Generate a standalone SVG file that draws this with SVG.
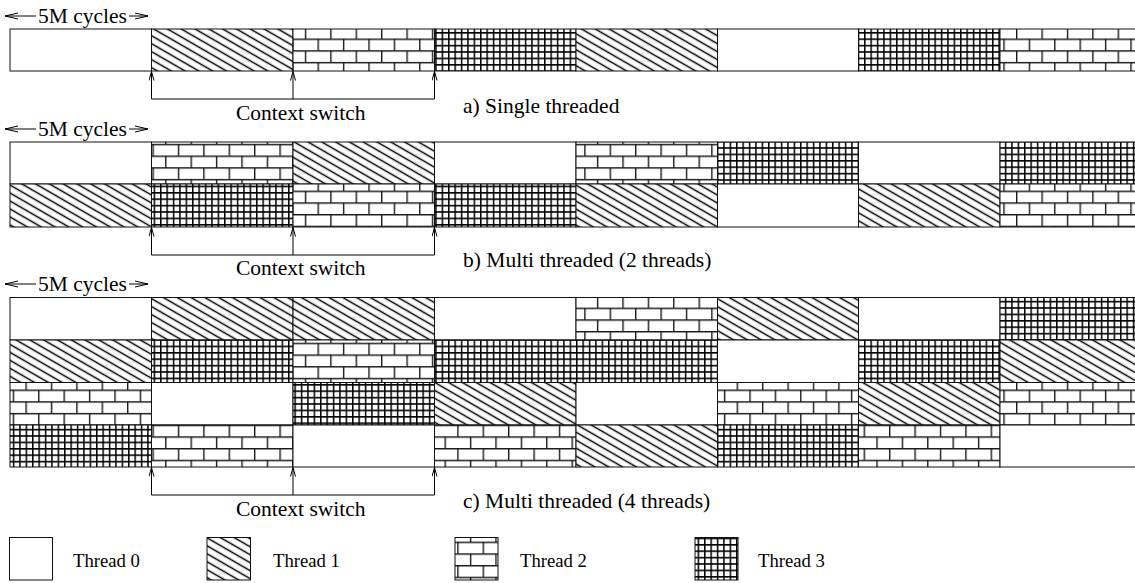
<svg xmlns="http://www.w3.org/2000/svg" width="1135" height="583" viewBox="0 0 1135 583">
<style>
text{font-family:"Liberation Serif","Times New Roman",serif;fill:#000}
.lbl{font-size:21.5px}
.leg{font-size:18.7px}
.c{stroke:#111;stroke-width:1}
.t0{fill:#fff}
.t1{fill:url(#p1)}
.t2{fill:url(#p2)}
.t3{fill:url(#p3)}
.ln{stroke:#000;stroke-width:1;fill:none}
</style>
<defs>
<pattern id="p1" patternUnits="userSpaceOnUse" width="20" height="6.9" patternTransform="rotate(30)">
<rect x="0" y="0" width="20" height="6.9" fill="#fff"/>
<line x1="-1" y1="3.45" x2="21" y2="3.45" stroke="#000" stroke-width="1.5"/>
</pattern>
<pattern id="p2" patternUnits="userSpaceOnUse" x="0" y="3.4" width="25.4" height="23.4">
<rect x="0" y="0" width="25.4" height="23.4" fill="#fff"/>
<path d="M0 0.7H25.4M0 12.4H25.4M0.7 0V11.7M13.4 11.7V23.4" stroke="#1a1a1a" stroke-width="1.4" fill="none"/>
</pattern>
<pattern id="p3" patternUnits="userSpaceOnUse" width="6.4" height="6.4">
<rect x="0" y="0" width="6.4" height="6.4" fill="#fff"/>
<path d="M0 0.75H6.4M0.75 0V6.4" stroke="#000" stroke-width="1.5" fill="none"/>
</pattern>
<marker id="ah" markerUnits="userSpaceOnUse" markerWidth="14" markerHeight="8" refX="13" refY="4" orient="auto">
<path d="M0 1 L13 4 L0 7" fill="none" stroke="#000" stroke-width="1"/>
</marker>
<marker id="ah2" markerUnits="userSpaceOnUse" markerWidth="10" markerHeight="6" refX="9" refY="3" orient="auto">
<path d="M0 0.5 L9 3 L0 5.5" fill="none" stroke="#000" stroke-width="1"/>
</marker>
</defs>

<g id="section-a">
<text class="lbl" x="38" y="23">5M cycles</text>
<g id="a-row">
<rect class="c t0" x="10" y="29" width="141.5" height="42"/>
<rect class="c t1" x="151.5" y="29" width="141.5" height="42"/>
<rect class="c t2" x="293" y="29" width="141.5" height="42"/>
<rect class="c t3" x="434.5" y="29" width="141.5" height="42"/>
<rect class="c t1" x="576" y="29" width="141.5" height="42"/>
<rect class="c t0" x="717.5" y="29" width="141" height="42"/>
<rect class="c t3" x="858.5" y="29" width="141.5" height="42"/>
<rect class="c t2" x="1000" y="29" width="141.5" height="42"/>
</g>
<text class="lbl" x="236" y="120">Context switch</text>
<text class="lbl" x="463" y="113">a) Single threaded</text>
</g>

<g id="section-b">
<text class="lbl" x="38" y="136">5M cycles</text>
<g id="b-row1">
<rect class="c t0" x="10" y="142" width="141.5" height="42"/>
<rect class="c t2" x="151.5" y="142" width="141.5" height="42"/>
<rect class="c t1" x="293" y="142" width="141.5" height="42"/>
<rect class="c t0" x="434.5" y="142" width="141.5" height="42"/>
<rect class="c t2" x="576" y="142" width="141.5" height="42"/>
<rect class="c t3" x="717.5" y="142" width="141" height="42"/>
<rect class="c t0" x="858.5" y="142" width="141.5" height="42"/>
<rect class="c t3" x="1000" y="142" width="141.5" height="42"/>
</g>
<g id="b-row2">
<rect class="c t1" x="10" y="184" width="141.5" height="43"/>
<rect class="c t3" x="151.5" y="184" width="141.5" height="43"/>
<rect class="c t2" x="293" y="184" width="141.5" height="43"/>
<rect class="c t3" x="434.5" y="184" width="141.5" height="43"/>
<rect class="c t1" x="576" y="184" width="141.5" height="43"/>
<rect class="c t0" x="717.5" y="184" width="141" height="43"/>
<rect class="c t1" x="858.5" y="184" width="141.5" height="43"/>
<rect class="c t2" x="1000" y="184" width="141.5" height="43"/>
</g>
<text class="lbl" x="236" y="275">Context switch</text>
<text class="lbl" x="463" y="267">b) Multi threaded (2 threads)</text>
</g>

<g id="section-c">
<text class="lbl" x="38" y="291">5M cycles</text>
<g id="c-row1">
<rect class="c t0" x="10" y="297.5" width="141.5" height="42.5"/>
<rect class="c t1" x="151.5" y="297.5" width="141.5" height="42.5"/>
<rect class="c t1" x="293" y="297.5" width="141.5" height="42.5"/>
<rect class="c t0" x="434.5" y="297.5" width="141.5" height="42.5"/>
<rect class="c t2" x="576" y="297.5" width="141.5" height="42.5"/>
<rect class="c t1" x="717.5" y="297.5" width="141" height="42.5"/>
<rect class="c t0" x="858.5" y="297.5" width="141.5" height="42.5"/>
<rect class="c t3" x="1000" y="297.5" width="141.5" height="42.5"/>
</g>
<g id="c-row2">
<rect class="c t1" x="10" y="340" width="141.5" height="42.5"/>
<rect class="c t3" x="151.5" y="340" width="141.5" height="42.5"/>
<rect class="c t2" x="293" y="340" width="141.5" height="42.5"/>
<rect class="c t3" x="434.5" y="340" width="283" height="42.5"/>
<rect class="c t0" x="717.5" y="340" width="141" height="42.5"/>
<rect class="c t3" x="858.5" y="340" width="141.5" height="42.5"/>
<rect class="c t1" x="1000" y="340" width="141.5" height="42.5"/>
</g>
<g id="c-row3">
<rect class="c t2" x="10" y="382.5" width="141.5" height="42.5"/>
<rect class="c t0" x="151.5" y="382.5" width="141.5" height="42.5"/>
<rect class="c t3" x="293" y="382.5" width="141.5" height="42.5"/>
<rect class="c t1" x="434.5" y="382.5" width="141.5" height="42.5"/>
<rect class="c t0" x="576" y="382.5" width="141.5" height="42.5"/>
<rect class="c t2" x="717.5" y="382.5" width="141" height="42.5"/>
<rect class="c t1" x="858.5" y="382.5" width="141.5" height="42.5"/>
<rect class="c t2" x="1000" y="382.5" width="141.5" height="42.5"/>
</g>
<g id="c-row4">
<rect class="c t3" x="10" y="425" width="141.5" height="42"/>
<rect class="c t2" x="151.5" y="425" width="141.5" height="42"/>
<rect class="c t0" x="293" y="425" width="141.5" height="42"/>
<rect class="c t2" x="434.5" y="425" width="141.5" height="42"/>
<rect class="c t1" x="576" y="425" width="141.5" height="42"/>
<rect class="c t3" x="717.5" y="425" width="141" height="42"/>
<rect class="c t2" x="858.5" y="425" width="141.5" height="42"/>
<rect class="c t0" x="1000" y="425" width="141.5" height="42"/>
</g>
<text class="lbl" x="236" y="516">Context switch</text>
<text class="lbl" x="463" y="508">c) Multi threaded (4 threads)</text>
</g>

<g id="connectors">
<line class="ln" x1="36" y1="16" x2="5" y2="16" marker-end="url(#ah)"/>
<line class="ln" x1="129" y1="16" x2="148" y2="16" marker-end="url(#ah)"/>
<line class="ln" x1="36" y1="129" x2="5" y2="129" marker-end="url(#ah)"/>
<line class="ln" x1="129" y1="129" x2="148" y2="129" marker-end="url(#ah)"/>
<line class="ln" x1="36" y1="284" x2="5" y2="284" marker-end="url(#ah)"/>
<line class="ln" x1="129" y1="284" x2="148" y2="284" marker-end="url(#ah)"/>

<path class="ln" d="M151.5 99H434.5"/>
<line class="ln" x1="151.5" y1="99" x2="151.5" y2="71.5" marker-end="url(#ah2)"/>
<line class="ln" x1="293" y1="99" x2="293" y2="71.5" marker-end="url(#ah2)"/>
<line class="ln" x1="434.5" y1="99" x2="434.5" y2="71.5" marker-end="url(#ah2)"/>

<path class="ln" d="M151.5 255H434.5"/>
<line class="ln" x1="151.5" y1="255" x2="151.5" y2="227.5" marker-end="url(#ah2)"/>
<line class="ln" x1="293" y1="255" x2="293" y2="227.5" marker-end="url(#ah2)"/>
<line class="ln" x1="434.5" y1="255" x2="434.5" y2="227.5" marker-end="url(#ah2)"/>

<path class="ln" d="M151.5 495H434.5"/>
<line class="ln" x1="151.5" y1="495" x2="151.5" y2="467.5" marker-end="url(#ah2)"/>
<line class="ln" x1="293" y1="495" x2="293" y2="467.5" marker-end="url(#ah2)"/>
<line class="ln" x1="434.5" y1="495" x2="434.5" y2="467.5" marker-end="url(#ah2)"/>
</g>

<g id="legend">
<g id="legend-t0"><rect class="c t0" x="9.5" y="537.5" width="43" height="42.5"/><text class="leg" x="73" y="567">Thread 0</text></g>
<g id="legend-t1"><rect class="c t1" x="207" y="537.5" width="43.5" height="42.5"/><text class="leg" x="273" y="567">Thread 1</text></g>
<g id="legend-t2"><rect class="c t2" x="455" y="537.5" width="43" height="42.5"/><text class="leg" x="520" y="567">Thread 2</text></g>
<g id="legend-t3"><rect class="c t3" x="695" y="537.5" width="43" height="42.5"/><text class="leg" x="758" y="567">Thread 3</text></g>
</g>
</svg>
